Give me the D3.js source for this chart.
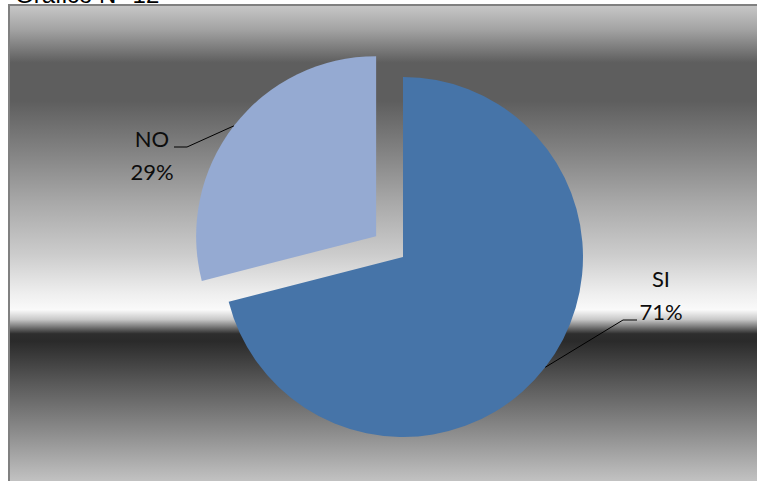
<!DOCTYPE html>
<html>
<head>
<meta charset="utf-8">
<script src="https://cdn.jsdelivr.net/npm/d3@7"></script>
<style>
  html, body { margin: 0; background: #fff; overflow: hidden; }
  svg { display: block; }
</style>
</head>
<body>
<svg></svg>
<script>
var categories = ["SI", "NO"];
var values = [71, 29];
var colors = ["#4674A8", "#95AAD2"];
var title = "Gráfico N° 12";

var screen = {width: 757, height: 481};
var svg = d3.select("svg")
            .attr("width", screen.width)
            .attr("height", screen.height);

// background gradient of the chart area
var stops = [
  [0.00, "#c8c8c8"], [0.05, "#a4a4a4"], [0.12, "#5e5e5e"], [0.20, "#5e5e5e"],
  [0.31, "#848484"], [0.41, "#a8a8a8"], [0.52, "#cccccc"], [0.60, "#eeeeee"],
  [0.635, "#fafafa"], [0.655, "#c8c8c8"], [0.685, "#2e2e2e"], [0.70, "#2a2a2a"],
  [0.79, "#5a5a5a"], [0.89, "#8c8c8c"], [1.00, "#c6c6c6"]
];
var grad = svg.append("defs").append("linearGradient")
  .attr("id", "bg").attr("x1", 0).attr("y1", 0).attr("x2", 0).attr("y2", 1);
grad.selectAll("stop").data(stops).enter().append("stop")
  .attr("offset", function(d){ return d[0]; })
  .attr("stop-color", function(d){ return d[1]; });

svg.append("rect")
  .attr("x", 9).attr("y", 5)
  .attr("width", 760).attr("height", 480)
  .attr("fill", "url(#bg)")
  .attr("stroke", "#808080").attr("stroke-width", 2);

svg.append("text")
  .attr("x", 15).attr("y", 3)
  .attr("font-family", "Arial, 'Liberation Sans', sans-serif")
  .attr("font-size", 24)
  .attr("fill", "#000")
  .text(title);

var cx = 403, cy = 257, r = 180, explode = 34;

var pie = d3.pie().sort(null).value(function(d){ return d; });
var arcs = pie(values);
var arc = d3.arc().innerRadius(0).outerRadius(r);

// label layout: elbow point and text anchor per slice
var labelPos = [
  {elbow: [623, 320], end: [637, 320], tx: 661, ty: 287},
  {elbow: [187, 147], end: [174, 147], tx: 152, ty: 147}
];

var g = svg.append("g").attr("transform", "translate(" + cx + "," + cy + ")");

arcs.forEach(function(d, i){
  var mid = (d.startAngle + d.endAngle) / 2;
  var off = i === 1 ? explode : 0;
  var ox = Math.sin(mid) * off, oy = -Math.cos(mid) * off;
  g.append("path")
    .attr("d", arc(d))
    .attr("transform", "translate(" + ox + "," + oy + ")")
    .attr("fill", colors[i]);

  var px = cx + ox + Math.sin(mid) * r, py = cy + oy - Math.cos(mid) * r;
  var L = labelPos[i];
  svg.append("polyline")
    .attr("points", [[px, py], L.elbow, L.end].map(function(p){ return p.join(","); }).join(" "))
    .attr("fill", "none").attr("stroke", "#000").attr("stroke-width", 1);

  var t = svg.append("text")
    .attr("x", L.tx).attr("y", L.ty)
    .attr("text-anchor", "middle")
    .attr("font-family", "Lato, 'Open Sans', sans-serif")
    .attr("font-size", 22)
    .attr("fill", "#0d0d0d");
  t.append("tspan").attr("x", L.tx).text(categories[i]);
  t.append("tspan").attr("x", L.tx).attr("dy", 33).text(values[i] + "%");
});
</script>
</body>
</html>
